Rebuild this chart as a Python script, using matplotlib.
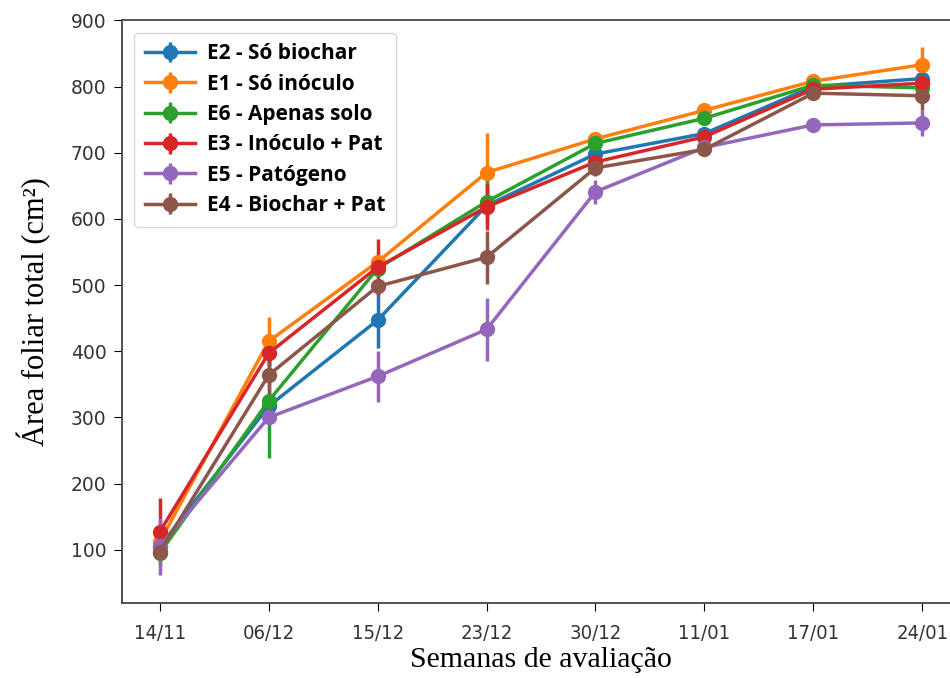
import matplotlib.pyplot as plt
import numpy as np

semanas = ['14/11', '06/12', '15/12', '23/12', '30/12', '11/01', '17/01', '24/01']

labels = ['E2 - Só biochar', 'E1 - Só inóculo', 'E6 - Apenas solo',
          'E3 - Inóculo + Pat', 'E5 - Patógeno', 'E4 - Biochar + Pat']

e2 = [105, 317, 447, 620, 698, 729, 800, 812]
e1 = [112, 415, 535, 670, 721, 764, 808, 833]
e6 = [95, 325, 525, 626, 714, 752, 802, 798]
e3 = [127, 397, 527, 618, 686, 724, 796, 805]
e5 = [105, 300, 362, 433, 641, 708, 742, 745]
e4 = [97, 364, 498, 542, 677, 705, 790, 786]

e2_err = [10, 10, 42, 15, 10, 10, 8, 8]
e1_err = [10, 36, 10, 60, 8, 8, 8, 27]
e6_err = [8, 86, 10, 35, 10, 8, 8, 8]
e3_err = [52, 20, 42, 35, 10, 10, 8, 8]
e5_err = [43, 10, 38, 48, 18, 8, 8, 20]
e4_err = [10, 30, 10, 40, 12, 10, 8, 22]

series = [e2, e1, e6, e3, e5, e4]
erros = [e2_err, e1_err, e6_err, e3_err, e5_err, e4_err]

fig = plt.figure(figsize=(9.5, 6.78), dpi=100)
ax = fig.add_axes([0.128, 0.111, 0.883, 0.859])

x = np.arange(len(semanas))
for i, (y, err, lab) in enumerate(zip(series, erros, labels)):
    ax.errorbar(x, y, yerr=err, fmt='-o', color='C%d' % i, lw=2.5,
                elinewidth=2.5, ms=10, capsize=0, label=lab)

ax.set_xlim(-0.35, 7.35)
ax.set_ylim(20, 900)
ax.set_yticks(range(100, 1000, 100))
ax.set_xticks(x)
ax.set_xticklabels(semanas, fontsize=14.5, fontstretch='condensed', color='#333333')
ax.tick_params(axis='y', labelsize=13.5, labelcolor='#333333', length=6, pad=5)
ax.tick_params(axis='x', length=6, pad=9)
for s in ax.spines.values():
    s.set_color('#444444')
    s.set_linewidth(1.3)

ax.set_ylabel('Área foliar total (cm²)', family='Liberation Serif', fontsize=22, labelpad=14)
ax.set_xlabel('Semanas de avaliação', family='Liberation Serif', fontsize=21.5, labelpad=3)

ax.legend(loc='upper left', prop={'family': 'Open Sans', 'weight': 'bold', 'size': 15},
          handlelength=2.4, labelspacing=0.45, borderpad=0.5, handletextpad=0.6,
          borderaxespad=0.6)

fig.savefig('out.png', dpi=100)
